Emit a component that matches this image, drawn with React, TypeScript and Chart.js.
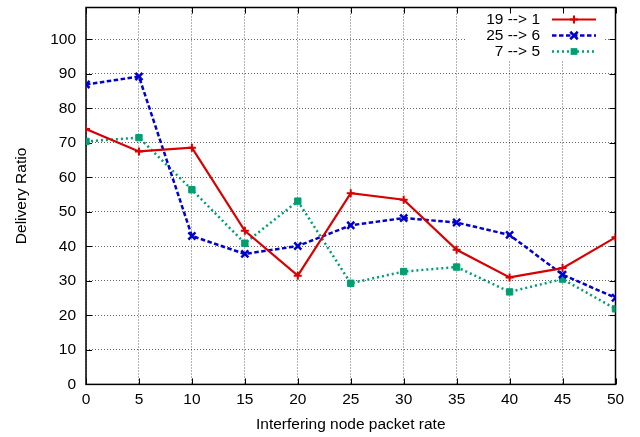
import React, { useEffect, useRef } from "react";
import { Chart, registerables } from "chart.js";

Chart.register(...registerables);

const xValues = [0, 5, 10, 15, 20, 25, 30, 35, 40, 45, 50];
const series19to1 = [74.0, 67.5, 68.6, 44.5, 31.5, 55.4, 53.5, 39.0, 31.0, 33.7, 42.6];
const series25to6 = [86.9, 89.2, 43.0, 37.8, 40.1, 46.1, 48.2, 46.9, 43.3, 31.8, 25.1];
const series7to5 = [70.4, 71.5, 56.4, 40.9, 53.1, 29.3, 32.7, 34.0, 26.8, 30.5, 21.9];
const seriesLabels = ["19 --> 1", "25 --> 6", "7 --> 5"];
const xTitle = "Interfering node packet rate";
const yTitle = "Delivery Ratio";

const FONT = '"Liberation Sans", Arial, Helvetica, sans-serif';
const FS = 15.5;

const RED = "#d80000";
const BLUE = "#0000d0";
const GREEN = "#009e73";

function drawMarker(ctx: CanvasRenderingContext2D, style: string, x: number, y: number, r: number, color: string, lw: number) {
  ctx.save();
  ctx.setLineDash([]);
  ctx.strokeStyle = color;
  ctx.fillStyle = color;
  ctx.lineWidth = lw;
  ctx.beginPath();
  if (style === "cross") {
    ctx.moveTo(x - r, y);
    ctx.lineTo(x + r, y);
    ctx.moveTo(x, y - r);
    ctx.lineTo(x, y + r);
    ctx.stroke();
  } else if (style === "crossRot") {
    const d = r * 0.75;
    ctx.moveTo(x - d, y - d);
    ctx.lineTo(x + d, y + d);
    ctx.moveTo(x + d, y - d);
    ctx.lineTo(x - d, y + d);
    ctx.stroke();
  } else {
    const s = r * 0.75;
    ctx.fillRect(x - s, y - s, 2 * s, 2 * s);
  }
  ctx.restore();
}

const framePlugin = {
  id: "gnuplotFrame",
  beforeDatasetsDraw(chart: any) {
    const ctx = chart.ctx as CanvasRenderingContext2D;
    const { left, right, top, bottom } = chart.chartArea;
    ctx.save();
    ctx.fillStyle = "#ffffff";
    ctx.fillRect(467, top + 1, 137, 52);
    ctx.strokeStyle = "#000";
    ctx.lineWidth = 1.5;
    ctx.setLineDash([]);
    ctx.strokeRect(left, top, right - left, bottom - top);
    const tl = 6;
    ctx.lineWidth = 1;
    ctx.beginPath();
    const xs = chart.scales.x;
    xs.ticks.forEach((t: any) => {
      const px = Math.round(xs.getPixelForValue(t.value)) + 0.5;
      ctx.moveTo(px, bottom);
      ctx.lineTo(px, bottom - tl);
      ctx.moveTo(px, top);
      ctx.lineTo(px, top + tl);
    });
    const ys = chart.scales.y;
    ys.ticks.forEach((t: any) => {
      const py = Math.round(ys.getPixelForValue(t.value)) + 0.5;
      ctx.moveTo(left, py);
      ctx.lineTo(left + tl, py);
      ctx.moveTo(right, py);
      ctx.lineTo(right - tl, py);
    });
    ctx.stroke();
    ctx.restore();
  },
  afterDatasetsDraw(chart: any) {
    const ctx = chart.ctx as CanvasRenderingContext2D;
    ctx.save();
    ctx.font = `${FS}px ${FONT}`;
    ctx.textAlign = "right";
    ctx.textBaseline = "middle";
    chart.data.datasets.forEach((ds: any, i: number) => {
      const y = 19.5 + i * 16;
      ctx.fillStyle = "#000";
      ctx.fillText(ds.label, 540, y + 0.5);
      ctx.strokeStyle = ds.borderColor;
      ctx.lineWidth = ds.borderWidth;
      ctx.setLineDash(ds.borderDash || []);
      ctx.beginPath();
      ctx.moveTo(552, y);
      ctx.lineTo(596, y);
      ctx.stroke();
      drawMarker(ctx, ds.pointStyle, 574, y, ds.pointRadius, ds.borderColor, ds.pointBorderWidth);
    });
    ctx.restore();
  },
};

export default function App() {
  const ref = useRef<HTMLCanvasElement | null>(null);

  useEffect(() => {
    if (!ref.current) return;
    const mk = (vals: number[]) => xValues.map((x, i) => ({ x, y: vals[i] }));
    const chart = new Chart(ref.current, {
      type: "line",
      data: {
        datasets: [
          {
            label: seriesLabels[0],
            data: mk(series19to1),
            borderColor: RED,
            backgroundColor: RED,
            borderWidth: 2.2,
            pointStyle: "cross",
            pointRadius: 4,
            pointBorderWidth: 2,
            pointBackgroundColor: RED,
            tension: 0,
            fill: false,
          },
          {
            label: seriesLabels[1],
            data: mk(series25to6),
            borderColor: BLUE,
            backgroundColor: BLUE,
            borderWidth: 2.5,
            borderDash: [4.5, 2.5],
            pointStyle: "crossRot",
            pointRadius: 5,
            pointBorderWidth: 2.5,
            pointBackgroundColor: BLUE,
            tension: 0,
            fill: false,
          },
          {
            label: seriesLabels[2],
            data: mk(series7to5),
            borderColor: GREEN,
            backgroundColor: GREEN,
            borderWidth: 2.5,
            borderDash: [2, 3],
            pointStyle: "rect",
            pointRadius: 4.5,
            pointBorderWidth: 1,
            pointBackgroundColor: GREEN,
            tension: 0,
            fill: false,
          },
        ],
      },
      options: {
        responsive: false,
        animation: false,
        devicePixelRatio: 1,
        layout: { padding: { top: 5.5, right: 24.5, left: 0, bottom: 0 } },
        plugins: {
          legend: { display: false },
          tooltip: { enabled: false },
        },
        scales: {
          x: {
            type: "linear",
            min: 0,
            max: 50,
            afterFit: (s: any) => {
              s.height = 437 - 384.4;
              s.paddingLeft = 0;
              s.paddingRight = 0;
            },
            ticks: {
              stepSize: 5,
              color: "#000",
              padding: 6.5,
              font: { family: FONT, size: FS },
              maxRotation: 0,
            },
            grid: { color: "rgba(0,0,0,0.6)", lineWidth: 1, drawTicks: false },
            border: { display: false, dash: [1, 2] },
            title: {
              display: true,
              text: xTitle,
              color: "#000",
              font: { family: FONT, size: FS },
              padding: { top: 0, bottom: 2.5 },
            },
          },
          y: {
            type: "linear",
            min: 0,
            max: 109.2,
            afterFit: (s: any) => {
              s.width = 86;
              s.paddingTop = 0;
              s.paddingBottom = 0;
            },
            afterBuildTicks: (s: any) => {
              s.ticks = s.ticks.filter((t: any) => t.value <= 100.001);
            },
            ticks: {
              stepSize: 10,
              color: "#000",
              padding: 10,
              font: { family: FONT, size: FS },
            },
            grid: { color: "rgba(0,0,0,0.6)", lineWidth: 1, drawTicks: false },
            border: { display: false, dash: [1, 2] },
            title: {
              display: true,
              text: yTitle,
              color: "#000",
              font: { family: FONT, size: FS },
              padding: { top: 12, bottom: 0 },
            },
          },
        },
      },
      plugins: [framePlugin],
    });
    return () => chart.destroy();
  }, []);

  return (
    <div style={{ position: "absolute", left: 0, top: 0, width: 640, height: 437, background: "#fff" }}>
      <canvas ref={ref} width={640} height={437} style={{ display: "block" }} />
    </div>
  );
}
